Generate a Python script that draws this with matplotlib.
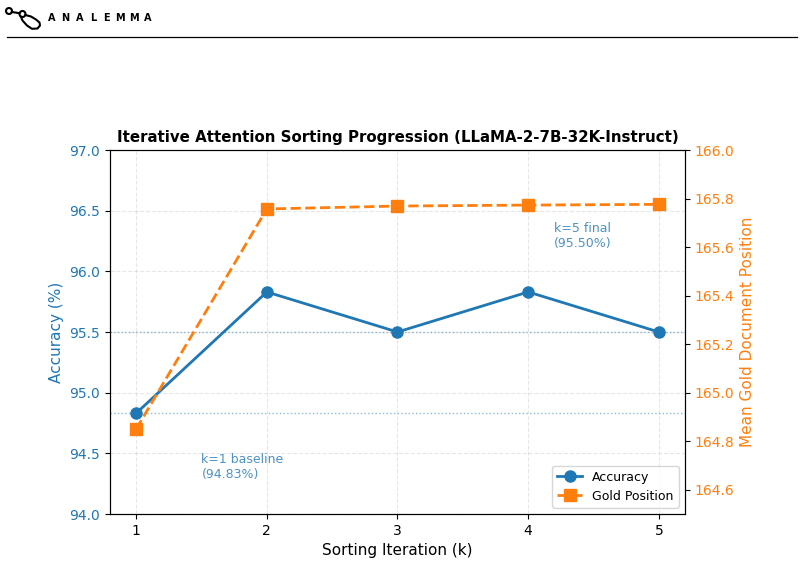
import numpy as np
import matplotlib.pyplot as plt
from matplotlib.lines import Line2D
from matplotlib.patches import Circle

iterations = [1, 2, 3, 4, 5]
accuracy = [94.83, 95.83, 95.50, 95.83, 95.50]
gold_position = [164.85, 165.757, 165.769, 165.773, 165.776]

baseline_acc = 94.83
final_acc = 95.50

fig = plt.figure(figsize=(8.04, 5.62), dpi=100)

# header with logo
fig.add_artist(Line2D([7 / 804, 797 / 804], [1 - 37 / 562, 1 - 37 / 562], color='black', lw=0.9))
letter_x = [51.5, 65.5, 79.5, 93, 106, 120, 134, 147.5]
for ch, xp in zip("ANALEMMA", letter_x):
    fig.text(xp / 804, 1 - 18 / 562, ch, fontsize=7, fontweight='bold',
             va='center', ha='center')

logo = fig.add_axes([0, 1 - 35 / 562, 45 / 804, 35 / 562])
logo.set_xlim(0, 45)
logo.set_ylim(35, 0)
logo.axis('off')
logo.add_patch(Circle((9, 11), 3, fill=False, lw=1.5))
logo.add_patch(Circle((22.5, 14), 3, fill=False, lw=1.5))
logo.plot([11.8, 19.6], [12, 13.2], color='black', lw=1.5)
loop_x = [25.3, 31, 36, 39.5, 40, 37.5, 32, 27, 22.5, 21]
loop_y = [15, 16.5, 19.5, 22.5, 25.5, 28.5, 28.8, 25.5, 20.5, 16.9]
logo.plot(loop_x, loop_y, color='black', lw=1.5)

ax1 = fig.add_axes([110 / 804, 1 - 514 / 562, 575 / 804, 364 / 562])
ax2 = ax1.twinx()

c1 = '#1f77b4'
c2 = '#ff7f0e'

l1, = ax1.plot(iterations, accuracy, 'o-', color=c1, lw=2, markersize=8, label='Accuracy')
l2, = ax2.plot(iterations, gold_position, 's--', color=c2, lw=2, markersize=8, label='Gold Position')

ax1.axhline(baseline_acc, color=c1, ls=':', lw=1, alpha=0.5)
ax1.axhline(final_acc, color=c1, ls=':', lw=1, alpha=0.5)

ax1.text(1.5, 94.3, f"k=1 baseline\n({baseline_acc:.2f}%)", color=c1, alpha=0.8, fontsize=9)
ax1.text(4.2, 96.2, f"k=5 final\n({final_acc:.2f}%)", color=c1, alpha=0.8, fontsize=9)

ax1.set_ylim(94.0, 97.0)
ax2.set_ylim(164.5, 166.0)
ax1.set_xticks(iterations)
ax2.set_yticks([164.6, 164.8, 165.0, 165.2, 165.4, 165.6, 165.8, 166.0])

ax1.set_xlabel('Sorting Iteration (k)', fontsize=11)
ax1.set_ylabel('Accuracy (%)', color=c1, fontsize=11)
ax2.set_ylabel('Mean Gold Document Position', color=c2, fontsize=11)
ax1.tick_params(axis='y', labelcolor=c1)
ax2.tick_params(axis='y', labelcolor=c2)
ax1.grid(True, ls='--', alpha=0.3)

ax1.set_title('Iterative Attention Sorting Progression (LLaMA-2-7B-32K-Instruct)',
              fontsize=10.8, fontweight='bold')

ax1.legend([l1, l2], ['Accuracy', 'Gold Position'], loc='lower right', fontsize=9)

fig.savefig('out.png', dpi=100)
